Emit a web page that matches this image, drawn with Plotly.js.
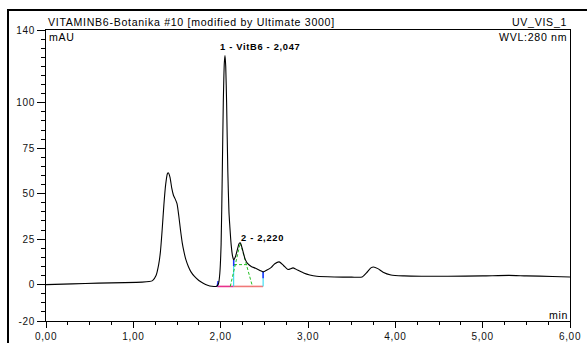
<!DOCTYPE html>
<html>
<head>
<meta charset="utf-8">
<script src="https://cdn.plot.ly/plotly-3.0.1.min.js"></script>
<style>
  html, body { margin: 0; padding: 0; background: #fff; }
  #chart { width: 587px; height: 343px; }
  svg text { letter-spacing: 0.7px; }
</style>
</head>
<body>
<div id="chart"></div>
<script>
// Chromatogram (time in min, signal in mAU)
const timeMin = [0.00, 0.30, 0.60, 0.90, 1.10, 1.18, 1.22, 1.26, 1.29, 1.31, 1.33, 1.35, 1.37, 1.39, 1.40,
  1.42, 1.44, 1.46, 1.48, 1.50, 1.52, 1.54, 1.56, 1.58, 1.60, 1.63, 1.66, 1.70, 1.75, 1.80, 1.85, 1.90, 1.95,
  1.975, 1.99, 2.005, 2.018, 2.03, 2.042, 2.05, 2.058, 2.068, 2.082, 2.095, 2.105, 2.12, 2.135, 2.149,
  2.17, 2.19, 2.21, 2.225, 2.24, 2.26, 2.28, 2.31, 2.35, 2.40, 2.45, 2.486, 2.53, 2.58, 2.62, 2.67, 2.72,
  2.77, 2.83, 2.88, 2.95, 3.02, 3.10, 3.30, 3.50, 3.62, 3.67, 3.72, 3.75, 3.80, 3.86, 3.95, 4.10, 4.30,
  4.60, 5.00, 5.30, 5.50, 5.80, 6.00];
const signalMAU = [0.0, 0.4, 0.8, 1.1, 1.4, 1.7, 2.2, 5, 11, 18, 30, 44, 55, 61, 61.5,
  59, 53, 49, 47, 44.5, 38, 30, 23, 18, 14, 10, 7, 4.5, 2.3, 0.8, -0.3, -0.9, -1.0,
  0.5, 6, 22, 60, 100, 122, 126, 120, 100, 62, 40, 32, 22, 16, 13.7,
  15.5, 19, 22.5, 23, 21, 17.5, 14, 11.5, 10, 9, 7.8, 7.0, 8.0, 9.5, 11.5, 12.5, 10.5,
  8.3, 9.2, 8, 6.4, 5.3, 4.6, 4.2, 4.1, 4.2, 6.5, 9.2, 9.7, 8.8, 6.8, 5.3, 4.8, 4.6,
  4.6, 4.8, 5.1, 4.8, 4.5, 4.2];

// Peak identification
const peakLabels = ["1 - VitB6 - 2,047", "2 - 2,220"];
const peakApexTime = [2.05, 2.225];
const peakApexMAU = [126, 23];

// Integration: start, valley, end times and baseline level
const integTimes = [1.962, 2.149, 2.486];
const integSignal = [-1.0, 13.7, 7.0];
const integBase = -1.0;
// Peak 2 fit construction (green dashed)
const fitLeft = [2.11, -1];
const fitRight = [2.364, -1];
const fitHalf = [[2.153, 2.314], [11, 11]];

// Axis ticks
const xTickVals = [0, 1, 2, 3, 4, 5, 6];
const xTickText = ["0,00", "1,00", "2,00", "3,00", "4,00", "5,00", "6,00"];
const yTickVals = [-20, 0, 25, 50, 75, 100, 140];
const yTickText = ["-20", "0", "25", "50", "75", "100", "140"];

const FONT = "Liberation Sans, Arial, sans-serif";

const traces = [
  { x: [integTimes[0], integTimes[1]], y: [integBase, integBase], mode: "lines",
    line: { color: "#e8308c", width: 1.6 }, hoverinfo: "skip" },
  { x: [integTimes[1], integTimes[2]], y: [integBase, integBase], mode: "lines",
    line: { color: "#f07878", width: 1.6 }, hoverinfo: "skip" },
  { x: [integTimes[1], integTimes[1], null, integTimes[2], integTimes[2]],
    y: [integBase, integSignal[1], null, integBase, integSignal[2]], mode: "lines",
    line: { color: "#20d8f0", width: 1 }, hoverinfo: "skip" },
  { x: [fitLeft[0], peakApexTime[1], fitRight[0], null, fitHalf[0][0], fitHalf[0][1]],
    y: [fitLeft[1], peakApexMAU[1], fitRight[1], null, fitHalf[1][0], fitHalf[1][1]], mode: "lines",
    line: { color: "#22c022", width: 1, dash: "3px,2px" }, hoverinfo: "skip" },
  { x: [integTimes[0], integTimes[0] + 0.008, null, integTimes[1], integTimes[1], null, integTimes[2], integTimes[2]],
    y: [integSignal[0], integSignal[0] + 3, null, integSignal[1], integSignal[1] - 3.5, null, integSignal[2], integSignal[2] - 3.5],
    mode: "lines", line: { color: "#2030ff", width: 1.5 }, hoverinfo: "skip" },
  { x: timeMin, y: signalMAU, mode: "lines", line: { color: "#000", width: 1.1, shape: "spline", smoothing: 0.6 },
    hoverinfo: "skip" }
];

function px2x(px) { return (px - 46) / 524; }
function py2y(py) { return (321 - py) / 291; }

const annotations = [
  { xref: "paper", yref: "paper", x: px2x(46), y: py2y(22), xanchor: "left", yanchor: "middle",
    text: "VITAMINB6-Botanika #10 [modified by Ultimate 3000]", showarrow: false,
    font: { family: FONT, size: 10.6, color: "#000" } },
  { xref: "paper", yref: "paper", x: px2x(569), y: py2y(22), xanchor: "right", yanchor: "middle",
    text: "UV_VIS_1", showarrow: false, font: { family: FONT, size: 10.6, color: "#000" } },
  { xref: "paper", yref: "paper", x: px2x(569), y: py2y(37), xanchor: "right", yanchor: "middle",
    text: "WVL:280 nm", showarrow: false, font: { family: FONT, size: 10.6, color: "#000" } },
  { xref: "paper", yref: "paper", x: px2x(47), y: py2y(37), xanchor: "left", yanchor: "middle",
    text: "mAU", showarrow: false, font: { family: FONT, size: 10.6, color: "#000" } },
  { xref: "paper", yref: "paper", x: px2x(570), y: py2y(315), xanchor: "right", yanchor: "middle",
    text: "min", showarrow: false, font: { family: FONT, size: 10.6, color: "#000" } },
  { x: peakApexTime[0], y: peakApexMAU[0], xanchor: "left", yanchor: "bottom", xshift: -7, yshift: 1,
    text: "<b>" + peakLabels[0] + "</b>", showarrow: false, font: { family: FONT, size: 9.3, color: "#000" } },
  { x: peakApexTime[1], y: peakApexMAU[1], xanchor: "left", yanchor: "middle", xshift: -1, yshift: 5,
    text: "<b>" + peakLabels[1] + "</b>", showarrow: false, font: { family: FONT, size: 9.3, color: "#000" } }
];

const shapes = [
  { type: "line", xref: "paper", yref: "paper", x0: px2x(8), x1: px2x(8), y0: py2y(10), y1: py2y(345),
    line: { color: "#000", width: 2 } },
  { type: "line", xref: "paper", yref: "paper", x0: px2x(7), x1: px2x(590), y0: py2y(10), y1: py2y(10),
    line: { color: "#000", width: 2 } }
];

const layout = {
  width: 587, height: 343,
  margin: { l: 46, r: 17, t: 30, b: 22, pad: 0 },
  paper_bgcolor: "#fff", plot_bgcolor: "#fff",
  showlegend: false,
  font: { family: FONT, size: 9.5, color: "#111" },
  xaxis: {
    range: [0, 6], tickvals: xTickVals, ticktext: xTickText,
    ticks: "outside", ticklen: 6, tickwidth: 1, tickcolor: "#000",
    showline: true, linecolor: "#000", linewidth: 1, mirror: true,
    showgrid: false, zeroline: false,
    tickfont: { family: FONT, size: 10, color: "#111" },
    minor: { dtick: 0.25, tick0: 0, ticks: "outside", ticklen: 3, tickcolor: "#000", showgrid: false }
  },
  yaxis: {
    range: [-20, 140], tickvals: yTickVals, ticktext: yTickText,
    ticks: "outside", ticklen: 8, tickwidth: 1, tickcolor: "#000",
    showline: true, linecolor: "#000", linewidth: 1, mirror: true,
    showgrid: false, zeroline: false,
    tickfont: { family: FONT, size: 10, color: "#111" },
    minor: { dtick: 5, tick0: 0, ticks: "outside", ticklen: 4, tickcolor: "#000", showgrid: false }
  },
  annotations: annotations,
  shapes: shapes
};

Plotly.newPlot("chart", traces, layout, { displayModeBar: false, staticPlot: true });
</script>
</body>
</html>
